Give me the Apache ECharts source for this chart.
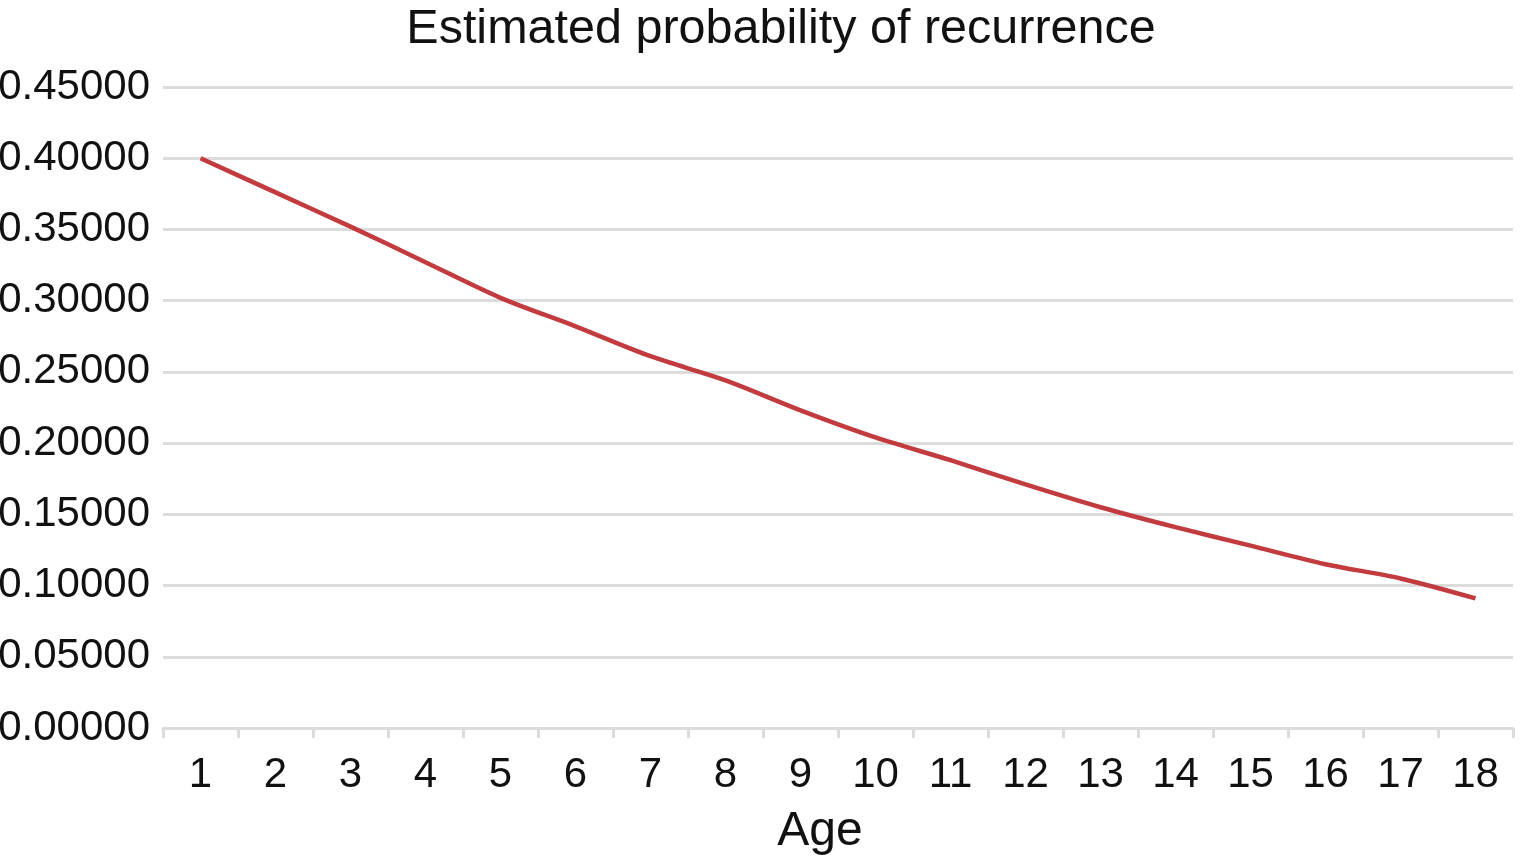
<!DOCTYPE html>
<html>
<head>
<meta charset="utf-8">
<script src="https://cdn.jsdelivr.net/npm/echarts@6/dist/echarts.min.js"></script>
<style>html,body{margin:0;padding:0;background:#fff;}#c{width:1521px;height:862px;}</style>
</head>
<body>
<div id="c"></div>
<script>
const titleText = 'Estimated probability of recurrence';
const xName = 'Age';
const ages = ['1','2','3','4','5','6','7','8','9','10','11','12','13','14','15','16','17','18'];
const probability = [0.400, 0.376, 0.352, 0.327, 0.302, 0.282, 0.261, 0.244, 0.223, 0.204, 0.188, 0.171, 0.155, 0.141, 0.128, 0.115, 0.105, 0.091];

const chart = echarts.init(document.getElementById('c'));
chart.setOption({
  animation: false,
  backgroundColor: '#fff',
  title: {
    text: titleText, left: 776, top: 0, textAlign: 'center',
    textStyle: { fontFamily: 'Liberation Sans', fontSize: 48.5, fontWeight: 'normal', color: '#111' }
  },
  grid: { left: 163, right: 8, top: 87, bottom: 134, containLabel: false, outerBoundsMode: 'none' },
  xAxis: {
    type: 'category', data: ages, boundaryGap: true,
    name: xName, nameLocation: 'middle', nameGap: 80,
    nameTextStyle: { fontFamily: 'Liberation Sans', fontSize: 48, color: '#111', padding: [0, 36, 0, 0] },
    axisLine: { lineStyle: { color: '#dcdcdc', width: 3 } },
    axisTick: { show: true, length: 10, lineStyle: { color: '#dcdcdc', width: 3 } },
    axisLabel: { fontFamily: 'Liberation Sans', fontSize: 42, color: '#111', margin: 26 }
  },
  yAxis: {
    type: 'value', min: 0, max: 0.45, interval: 0.05,
    axisLine: { show: false }, axisTick: { show: false },
    axisLabel: { fontFamily: 'Liberation Sans', fontSize: 42, color: '#111', margin: 13,
      formatter: v => v.toFixed(5) },
    splitLine: { lineStyle: { color: '#dcdcdc', width: 3 } }
  },
  series: [{
    type: 'line', data: probability, smooth: 0.3, symbol: 'none',
    lineStyle: { color: '#c23b3f', width: 4.5 }
  }]
});
</script>
</body>
</html>
